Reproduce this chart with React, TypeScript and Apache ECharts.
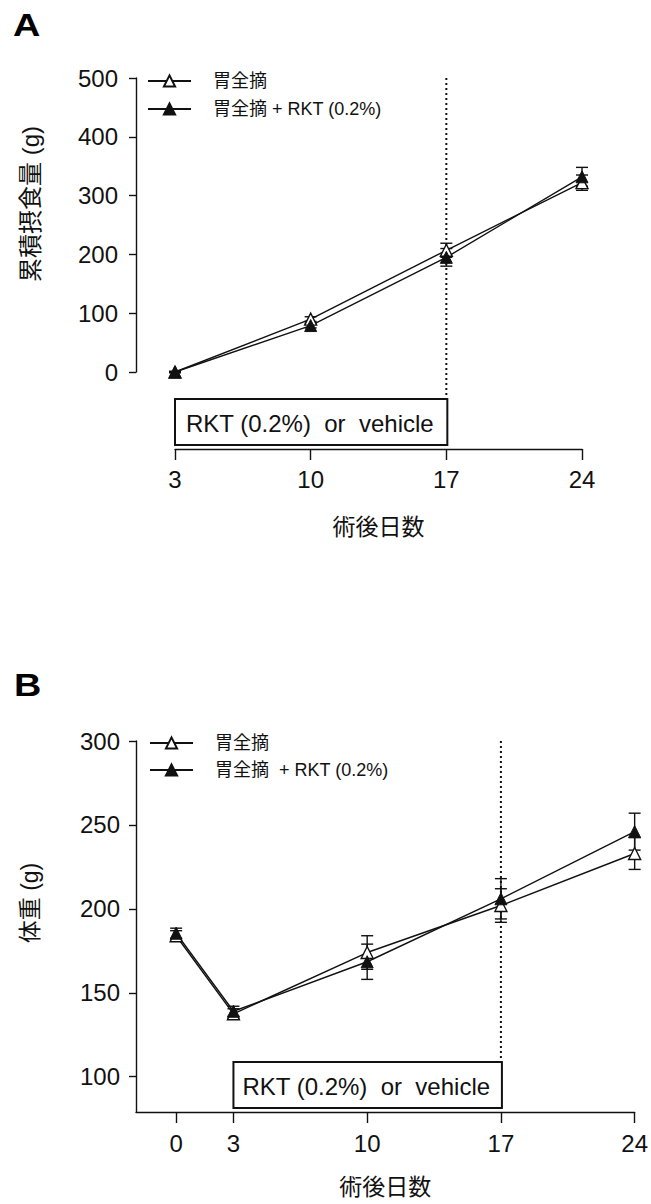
import React, { useEffect, useRef } from "react";
import * as echarts from "echarts";

// ---- Data ----
const seriesNamesA = ["胃全摘", "胃全摘 + RKT (0.2%)"];
const seriesNamesB = ["胃全摘", "胃全摘  + RKT (0.2%)"];

// Panel A: cumulative food intake (g)
const daysA = [3, 10, 17, 24];
const gastA = [0, 90, 207, 322];
const gastSdA = [1, 4, 12, 13];
const rktA = [0, 79, 195, 332];
const rktSdA = [1, 4, 15, 16];
const xTicksA = [3, 10, 17, 24];
const yTicksA = [0, 100, 200, 300, 400, 500];

// Panel B: body weight (g)
const daysB = [0, 3, 10, 17, 24];
const gastB = [184, 137.5, 174, 202, 233];
const gastSdB = [3, 3, 10, 10, 9.5];
const rktB = [185.5, 139, 168.5, 206, 246];
const rktSdB = [3, 3, 10.5, 12, 11];
const xTicksB = [0, 3, 10, 17, 24];
const yTicksB = [100, 150, 200, 250, 300];

// Treatment period (days) and its label
const treatment = [3, 17];
const boxLabel = "RKT (0.2%)  or  vehicle";

const LATIN = "'Liberation Sans', Arial, Helvetica, sans-serif";
const FONT = "'Liberation Sans', 'Noto Sans CJK JP', sans-serif";
const INK = "#111";

function zip(xs: number[], ys: number[]) {
  return xs.map((x, i) => [x, ys[i]]);
}
function zip3(xs: number[], ys: number[], es: number[]) {
  return xs.map((x, i) => [x, ys[i], es[i]]);
}

function errorBarSeries(gridIdx: number, data: number[][]) {
  return {
    type: "custom",
    xAxisIndex: gridIdx,
    yAxisIndex: gridIdx,
    z: 1,
    clip: false,
    silent: true,
    encode: { x: 0, y: 1 },
    data,
    renderItem: (params: any, api: any) => {
      const x = api.value(0);
      const m = api.value(1);
      const e = api.value(2);
      const top = api.coord([x, m + e]);
      const bot = api.coord([x, m - e]);
      const w = 6;
      const style = { stroke: INK, lineWidth: 1.4 };
      return {
        type: "group",
        children: [
          { type: "line", shape: { x1: top[0], y1: top[1], x2: bot[0], y2: bot[1] }, style },
          { type: "line", shape: { x1: top[0] - w, y1: top[1], x2: top[0] + w, y2: top[1] }, style },
          { type: "line", shape: { x1: bot[0] - w, y1: bot[1], x2: bot[0] + w, y2: bot[1] }, style },
        ],
      };
    },
  };
}

function treatmentSeries(
  gridIdx: number,
  yMin: number,
  yMax: number,
  axisOffset: number,
  textPad: number
) {
  return {
    type: "custom",
    xAxisIndex: gridIdx,
    yAxisIndex: gridIdx,
    z: 0,
    clip: false,
    silent: true,
    encode: { x: [0, 1], y: 2 },
    data: [[treatment[0], treatment[1], yMin]],
    renderItem: (params: any, api: any) => {
      const x0 = api.coord([api.value(0), yMin])[0];
      const p1 = api.coord([api.value(1), yMin]);
      const x1 = p1[0];
      const axisY = p1[1] + axisOffset;
      const bottom = axisY - 4;
      const top = bottom - 46;
      const lineTop = api.coord([api.value(1), yMax])[1];
      return {
        type: "group",
        children: [
          {
            type: "line",
            shape: { x1: x1, y1: lineTop, x2: x1, y2: top },
            style: { stroke: INK, lineWidth: 2, lineDash: [2, 3] },
          },
          {
            type: "rect",
            shape: { x: x0, y: top, width: x1 - x0 + 1, height: bottom - top },
            style: { fill: "#fff", stroke: INK, lineWidth: 2 },
          },
          {
            type: "text",
            x: x0 + textPad,
            y: (top + bottom) / 2 + 1,
            style: {
              text: boxLabel,
              fill: INK,
              font: `24px ${LATIN}`,
              align: "left",
              verticalAlign: "middle",
            },
          },
        ],
      };
    },
  };
}

function lineSeries(gridIdx: number, name: string, data: number[][], filled: boolean) {
  return {
    type: "line",
    name,
    xAxisIndex: gridIdx,
    yAxisIndex: gridIdx,
    data,
    z: 3,
    symbol: "triangle",
    symbolSize: 12,
    showAllSymbol: true,
    lineStyle: { color: INK, width: 1.4 },
    itemStyle: filled
      ? { color: INK, borderColor: INK, borderWidth: 1 }
      : { color: "#fff", borderColor: INK, borderWidth: 1.4 },
    emphasis: { disabled: true },
  };
}

const axisLineStyle = { lineStyle: { color: INK, width: 1.4 } };
const tickLabel = { fontSize: 24, color: INK, fontFamily: LATIN };

function legendAt(left: number, top: number, gap: number, names: string[]) {
  return {
    orient: "vertical",
    left,
    top,
    padding: 0,
    itemWidth: 43,
    itemHeight: 14,
    itemGap: gap,
    selectedMode: false,
    data: names,
    textStyle: { fontSize: 18, color: INK, fontFamily: FONT, padding: [0, 0, 0, 17] },
  };
}

function panelLetter(text: string, x: number, y: number) {
  return {
    type: "text",
    x,
    y,
    scaleX: 1.22,
    style: {
      text,
      font: `bold 31px ${LATIN}`,
      fill: "#000",
      align: "left",
      verticalAlign: "top",
    },
  };
}

export default function App() {
  const ref = useRef<HTMLDivElement>(null);

  useEffect(() => {
    document.body.style.margin = "0";
    if (!ref.current) return;
    const chart = echarts.init(ref.current, undefined, { renderer: "svg" });

    const option: any = {
      animation: false,
      backgroundColor: "#fff",
      textStyle: { fontFamily: FONT },
      legend: [legendAt(147, 72, 10, seriesNamesA), legendAt(149, 734, 9, seriesNamesB)],
      grid: [
        { left: 175, top: 78, width: 407, height: 294, containLabel: false },
        { left: 136, top: 741, width: 499, height: 371, containLabel: false },
      ],
      xAxis: [
        {
          type: "value",
          gridIndex: 0,
          min: 3,
          max: 24,
          interval: 7,
          offset: 77,
          splitLine: { show: false },
          axisLine: { show: true, onZero: false, ...axisLineStyle },
          axisTick: { show: true, length: 11, customValues: xTicksA, lineStyle: { color: INK, width: 1.4 } },
          axisLabel: { ...tickLabel, margin: 18, customValues: xTicksA },
          name: "術後日数",
          nameLocation: "middle",
          nameGap: 66,
          nameTextStyle: { fontSize: 23, color: INK, fontFamily: FONT },
        },
        {
          type: "value",
          gridIndex: 1,
          min: -2.1,
          max: 24,
          splitLine: { show: false },
          axisLine: { show: true, onZero: false, ...axisLineStyle },
          axisTick: { show: true, length: 11, customValues: xTicksB, lineStyle: { color: INK, width: 1.4 } },
          axisLabel: { ...tickLabel, margin: 19, customValues: xTicksB },
          name: "術後日数",
          nameLocation: "middle",
          nameGap: 63,
          nameTextStyle: { fontSize: 23, color: INK, fontFamily: FONT },
        },
      ],
      yAxis: [
        {
          type: "value",
          gridIndex: 0,
          min: 0,
          max: 500,
          interval: 100,
          offset: 39,
          splitLine: { show: false },
          axisLine: { show: true, onZero: false, ...axisLineStyle },
          axisTick: { show: true, length: 7, customValues: yTicksA, lineStyle: { color: INK, width: 1.4 } },
          axisLabel: { ...tickLabel, margin: 18, customValues: yTicksA },
        },
        {
          type: "value",
          gridIndex: 1,
          min: 79,
          max: 300,
          splitLine: { show: false },
          axisLine: { show: true, onZero: false, ...axisLineStyle },
          axisTick: { show: true, length: 7, customValues: yTicksB, lineStyle: { color: INK, width: 1.4 } },
          axisLabel: { ...tickLabel, margin: 16, customValues: yTicksB },
        },
      ],
      graphic: [
        panelLetter("A", 13, 10),
        panelLetter("B", 14, 670),
        {
          type: "text",
          x: 30,
          y: 204,
          rotation: Math.PI / 2,
          style: {
            text: "累積摂食量 (g)",
            font: `24px ${FONT}`,
            fill: INK,
            align: "center",
            verticalAlign: "middle",
          },
        },
        {
          type: "text",
          x: 30,
          y: 903,
          rotation: Math.PI / 2,
          style: {
            text: "体重 (g)",
            font: `23px ${FONT}`,
            fill: INK,
            align: "center",
            verticalAlign: "middle",
          },
        },
      ],
      series: [
        treatmentSeries(0, 0, 500, 77, 11),
        errorBarSeries(0, [...zip3(daysA, gastA, gastSdA), ...zip3(daysA, rktA, rktSdA)]),
        lineSeries(0, seriesNamesA[0], zip(daysA, gastA), false),
        lineSeries(0, seriesNamesA[1], zip(daysA, rktA), true),
        treatmentSeries(1, 79, 300, 0, 9),
        errorBarSeries(1, [...zip3(daysB, gastB, gastSdB), ...zip3(daysB, rktB, rktSdB)]),
        lineSeries(1, seriesNamesB[0], zip(daysB, gastB), false),
        lineSeries(1, seriesNamesB[1], zip(daysB, rktB), true),
      ],
    };

    chart.setOption(option);
    return () => {
      chart.dispose();
    };
  }, []);

  return <div ref={ref} style={{ width: 651, height: 1204 }} />;
}
